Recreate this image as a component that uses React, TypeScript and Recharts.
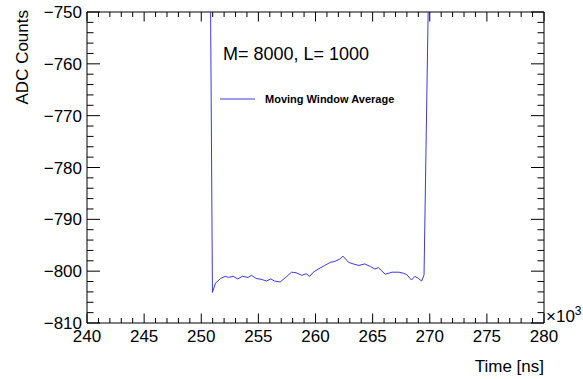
import React from "react";
import { LineChart, Line, XAxis, YAxis, ReferenceArea } from "recharts";

// time axis in units of 10^3 ns
const timeKns = [
  250.67, 250.98, 251.25, 251.7, 252.1, 252.4, 252.8, 253.2, 253.6, 254.1,
  254.4, 254.8, 255.3, 255.7, 256.1, 256.4, 256.9, 257.5, 257.9, 258.3,
  258.8, 259.2, 259.5, 259.8, 260.4, 260.8, 261.3, 261.7, 262.1, 262.4,
  262.9, 263.3, 263.8, 264.3, 264.8, 265.2, 265.5, 266.1, 266.7, 267.3,
  267.7, 268.0, 268.4, 268.7, 269.0, 269.3, 269.5, 269.86, 270.16,
];

// moving window average output (ADC counts)
const adcCounts = [
  -700, -804.1, -802.3, -801.4, -801.0, -801.2, -801.0, -801.5, -801.0, -801.2,
  -800.8, -801.4, -801.6, -801.9, -801.5, -801.9, -802.1, -801.0, -800.2, -800.3,
  -800.8, -800.5, -801.0, -800.2, -799.4, -798.9, -798.3, -798.1, -797.7, -797.1,
  -798.3, -798.6, -798.9, -798.6, -799.1, -799.6, -799.3, -800.6, -800.2, -800.2,
  -800.4, -800.7, -801.7, -801.0, -801.4, -801.9, -800.7, -750, -700,
];

const xTicks: number[] = [];
for (let t = 240; t <= 280; t += 1) xTicks.push(t);
const yTicks: number[] = [];
for (let v = -810; v <= -750; v += 2) yTicks.push(v);

const data = timeKns.map((t, i) => ({ t, adc: adcCounts[i] }));

const W = 583;
const H = 379;
const Y_AXIS_W = 87;
const X_AXIS_H = 56;
const M = { top: 12, right: 39, bottom: 0, left: 0 };
const TOP = M.top;
const BOTTOM = H - X_AXIS_H;
const LEFT = Y_AXIS_W;
const RIGHT = W - M.right;
const FONT = "'Liberation Sans', Arial, Helvetica, sans-serif";
const BLUE = "#3a3ae0";

const fmt = (v: number) => (v < 0 ? "\u2212" + Math.abs(v) : String(v));

function XTick(props: any) {
  const { x, payload } = props;
  const v = payload.value as number;
  const major = v % 5 === 0;
  const len = major ? 9.5 : 5;
  return (
    <g>
      <line x1={x} x2={x} y1={BOTTOM} y2={BOTTOM - len} stroke="#000" />
      <line x1={x} x2={x} y1={TOP} y2={TOP + len} stroke="#000" />
      {major && (
        <text x={x} y={BOTTOM + 19} textAnchor="middle" fontSize={17} fontFamily={FONT} fill="#000">
          {v}
        </text>
      )}
    </g>
  );
}

function YTick(props: any) {
  const { y, payload } = props;
  const v = payload.value as number;
  const major = v % 10 === 0;
  const len = major ? 13 : 6.5;
  return (
    <g>
      <line x1={LEFT} x2={LEFT + len} y1={y} y2={y} stroke="#000" />
      <line x1={RIGHT} x2={RIGHT - len} y1={y} y2={y} stroke="#000" />
      {major && (
        <text x={LEFT - 5} y={y + 6} textAnchor="end" fontSize={17} fontFamily={FONT} fill="#000">
          {fmt(v)}
        </text>
      )}
    </g>
  );
}

export default function App() {
  return (
    <div style={{ width: W, height: H, background: "#fff" }}>
      <style>{`body{margin:0}`}</style>
      <LineChart width={W} height={H} data={data} margin={M}>
        <XAxis
          dataKey="t"
          type="number"
          domain={[240, 280]}
          ticks={xTicks}
          interval={0}
          allowDataOverflow
          axisLine={false}
          tickLine={false}
          tickSize={0}
          tickMargin={0}
          height={X_AXIS_H}
          tick={<XTick />}
        />
        <YAxis
          type="number"
          domain={[-810, -750]}
          ticks={yTicks}
          interval={0}
          allowDataOverflow
          axisLine={false}
          tickLine={false}
          tickSize={0}
          tickMargin={0}
          width={Y_AXIS_W}
          tick={<YTick />}
        />
        <ReferenceArea x1={240} x2={280} y1={-810} y2={-750} fill="none" stroke="#000" strokeWidth={1} ifOverflow="visible" />
        <Line
          type="linear"
          dataKey="adc"
          stroke={BLUE}
          strokeWidth={1}
          dot={false}
          isAnimationActive={false}
        />
        <text x={546} y={322} fontSize={17} fontFamily={FONT} fill="#000">
          ×10
          <tspan dy={-7} fontSize={12}>3</tspan>
        </text>
        <text x={RIGHT} y={372} textAnchor="end" fontSize={17} fontFamily={FONT} fill="#000">
          Time [ns]
        </text>
        <text x={28} y={10} transform="rotate(-90, 28, 10)" textAnchor="end" fontSize={17} fontFamily={FONT} fill="#000">
          ADC Counts
        </text>
        <text x={223} y={60} fontSize={18} fontFamily={FONT} fill="#000">
          M= 8000, L= 1000
        </text>
        <line x1={220} x2={255} y1={99} y2={99} stroke={BLUE} strokeWidth={1} />
        <text x={265} y={103} fontSize={11} fontWeight="bold" fontFamily={FONT} fill="#000">
          Moving Window Average
        </text>
      </LineChart>
    </div>
  );
}
